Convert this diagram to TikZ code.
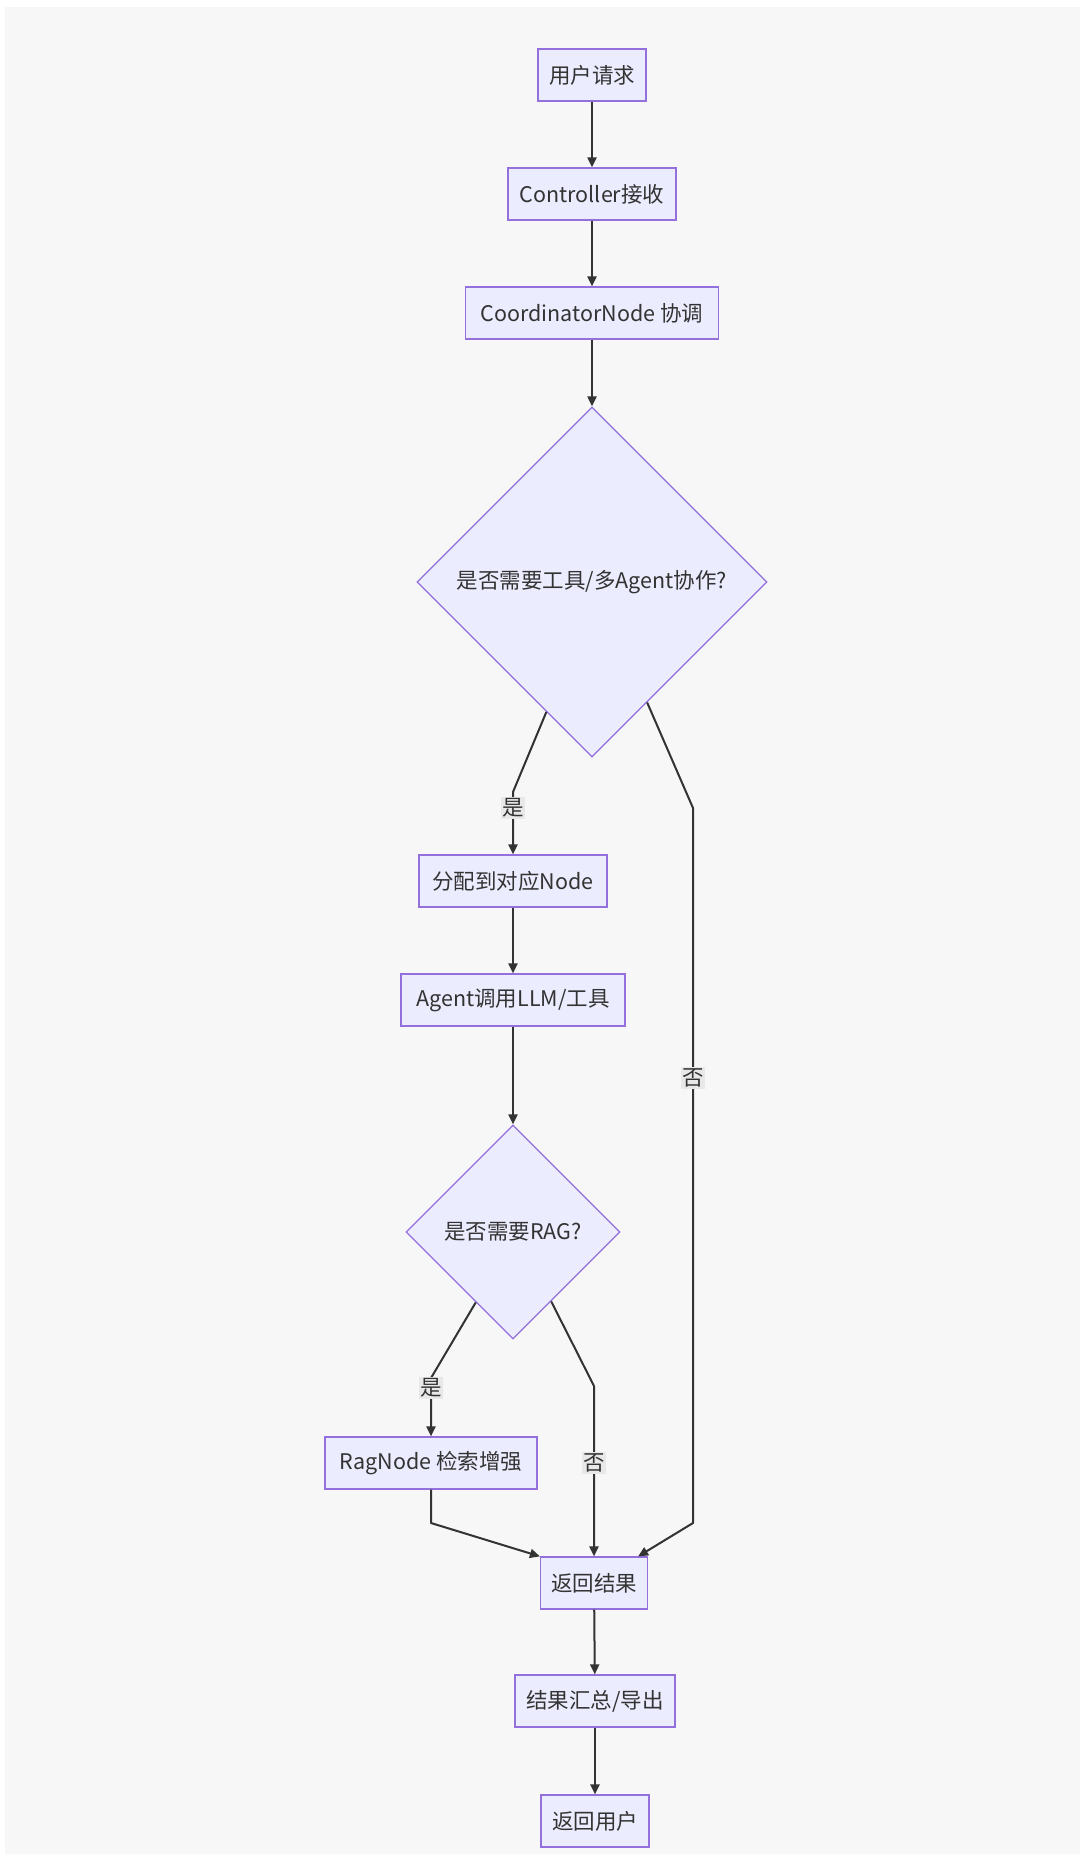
\documentclass[tikz,border=0pt]{standalone}
\usepackage{fontspec}
\setmainfont{Noto Sans CJK SC}
\usetikzlibrary{shapes.geometric, arrows.meta, calc}
\definecolor{boxfill}{HTML}{ECECFF}
\definecolor{boxline}{HTML}{9370DB}
\definecolor{ink}{HTML}{333333}
\definecolor{panel}{HTML}{F7F7F7}
\definecolor{tagfill}{HTML}{E8E8E8}

\begin{document}
\begin{tikzpicture}[x=1pt, y=-1pt,
    every node/.style={font=\fontsize{21.5}{25}\selectfont, text=ink},
    box/.style={draw=boxline, fill=boxfill, line width=1.2pt, minimum height=52pt, inner xsep=10.5pt},
    choice/.style={diamond, draw=boxline, fill=boxfill, line width=1.2pt, inner sep=0pt},
    flow/.style={draw=ink, line width=2pt, line join=round, -{Triangle[length=10pt,width=9pt]}},
    tag/.style={fill=tagfill, inner sep=1.5pt}]

    % Page and grey panel
    \useasboundingbox (0,0) rectangle (1080,1854);
    \fill[white] (0,0) rectangle (1080,1854);
    \fill[panel] (5,7) rectangle (1080,1854);

    % Main column
    \node[box, minimum width=108pt] (req)    at (592,75)   {用户请求};
    \node[box, minimum width=168pt] (ctrl)   at (592,194)  {Controller接收};
    \node[box, minimum width=253pt] (coord)  at (592,313)  {CoordinatorNode 协调};
    \node[choice, minimum width=350pt, minimum height=350pt] (ask1) at (592,582) {是否需要工具/多Agent协作?};

    % Agent branch
    \node[box, minimum width=188pt] (assign) at (513,881)  {分配到对应Node};
    \node[box, minimum width=224pt] (agent)  at (513,1000) {Agent调用LLM/工具};
    \node[choice, minimum width=214pt, minimum height=214pt] (ask2) at (513,1232) {是否需要RAG?};
    \node[box, minimum width=212pt] (rag)    at (431,1463) {RagNode 检索增强};

    % Result column
    \node[box, minimum width=107pt] (ret)    at (594,1583) {返回结果};
    \node[box, minimum width=160pt] (sum)    at (595,1701) {结果汇总/导出};
    \node[box, minimum width=108pt] (back)   at (595,1821) {返回用户};

    % Straight links
    \draw[flow] (req) -- (ctrl);
    \draw[flow] (ctrl) -- (coord);
    \draw[flow] (coord) -- (ask1);
    \draw[flow] (assign) -- (agent);
    \draw[flow] (agent) -- (ask2);
    \draw[flow] (ret) -- (sum);
    \draw[flow] (sum) -- (back);

    % ask1: yes
    \coordinate (y1)  at ($(ask1.west)!0.74!(ask1.south)$);
    \coordinate (y1k) at (513,792);
    \draw[flow] (y1) -- (y1k) -- (assign);
    \node[tag] (y1tag) at (513,808) {是};

    % ask1: no
    \coordinate (n1)  at ($(ask1.south)!0.314!(ask1.east)$);
    \coordinate (n1k) at (693,808);
    \coordinate (n1d) at (693,1523);
    \draw[flow] (n1) -- (n1k) -- (n1d) -- ($(ret.north east)+(-10,0)$);
    \node[tag] (n1tag) at (693,1078) {否};

    % ask2: yes
    \coordinate (y2)  at ($(ask2.west)!0.654!(ask2.south)$);
    \coordinate (y2k) at (431,1378);
    \draw[flow] (y2) -- (y2k) -- (rag);
    \node[tag] (y2tag) at (431,1388) {是};

    % ask2: no
    \coordinate (n2)  at ($(ask2.south)!0.355!(ask2.east)$);
    \coordinate (n2k) at (594,1386);
    \draw[flow] (n2) -- (n2k) -- (ret);
    \node[tag] (n2tag) at (594,1463) {否};

    % rag back to result
    \coordinate (r2k) at (431,1523);
    \draw[flow] (rag) -- (r2k) -- (ret.north west);

\end{tikzpicture}
\end{document}
